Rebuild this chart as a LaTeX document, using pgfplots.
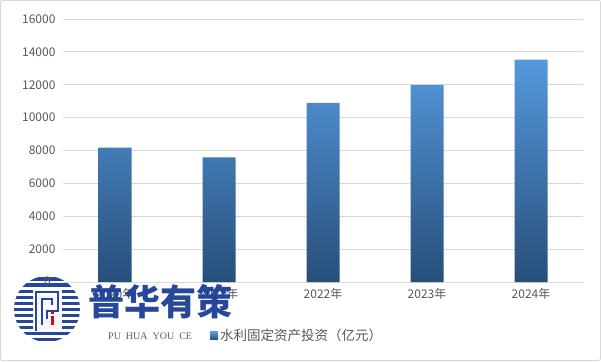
\documentclass[border=0pt]{standalone}
\usepackage{pgfplots}
\pgfplotsset{compat=1.18}
\usepackage{fontspec}
\setmainfont{Noto Sans CJK SC}
\newfontfamily\logofont{Noto Sans CJK SC Black}
\newfontfamily\serifen{Liberation Serif}
\usetikzlibrary{shadings}
\definecolor{txt}{RGB}{89,89,89}
\definecolor{gridc}{RGB}{217,217,217}
\definecolor{bartop}{RGB}{86,152,220}
\definecolor{barbot}{RGB}{38,78,122}
\definecolor{logoblue}{RGB}{28,62,150}
\begin{document}
\begin{tikzpicture}[x=1pt,y=1pt]
\path[fill=white] (0,0) rectangle (601,361);
\draw[gridc, line width=1pt, rounded corners=2pt] (0.5,0.5) rectangle (600.5,360.5);
\begin{axis}[
  at={(63pt,79pt)}, anchor=south west,
  scale only axis, width=520pt, height=263pt,
  xmin=-0.5, xmax=4.5, ymin=0, ymax=16000,
  ytick={2000,4000,...,16000},
  scaled y ticks=false,
  xtick={0,1,2,3,4},
  xticklabels={2020年,2021年,2022年,2023年,2024年},
  ymajorgrids, grid style={gridc, line width=0.8pt},
  axis lines*=left,
  axis line style={draw=none},
  tick style={draw=none},
  ticklabel style={font=\fontsize{12}{14}\selectfont, text=txt},
  yticklabel style={xshift=-4pt, /pgf/number format/fixed, /pgf/number format/precision=0},
  xticklabel style={yshift=-3pt},
  /pgf/number format/set thousands separator={},
  /pgf/number format/assume math mode=true,
  legend style={at={(0.45,-0.205)}, anchor=center, draw=none, fill=none,
    font=\fontsize{13.5}{15}\selectfont, text=txt},
  legend image code/.code={\fill[top color=bartop, bottom color=barbot] (0pt,-4pt) rectangle (8pt,4pt);},
  clip=false,
]
\draw[gridc, line width=0.8pt] (axis cs:-0.5,0) -- (axis cs:4.5,0);
\addplot[ybar, bar width=33pt, draw=none, top color=bartop, bottom color=barbot] coordinates {
(0,8182) (1,7576) (2,10893) (3,11996) (4,13529)};
\addlegendentry{水利固定资产投资（亿元）}
\end{axis}
% watermark logo
\begin{scope}[opacity=0.95]
\begin{scope}
\clip (47,52) circle (33);
\foreach \i in {0,...,11} {
  \fill[logoblue] (10,{20+\i*6}) rectangle (84,{23.5+\i*6});
}
\end{scope}
\fill[white] (33,30) rectangle (62,72);
\draw[logoblue, line width=2.5pt] (36,30) -- (36,69) -- (58,69) -- (58,50) -- (47,50) -- (47,42);
\draw[logoblue, line width=2.5pt] (42,36) -- (42,62) -- (52,62) -- (52,56);
\fill[red!80!black] (51,36) rectangle (54,45);
\fill[red!80!black] (51,47) rectangle (54,50);
\node[anchor=west, inner sep=0pt, text=logoblue, font=\logofont\fontsize{36}{40}\selectfont] at (88,59) {普华有策};
\node[anchor=west, inner sep=0pt, text=txt!80!logoblue, font=\serifen\fontsize{10}{11}\selectfont] at (108,25) {PU\ \ HUA\ \ YOU\ \ CE};
\end{scope}
\node[text=txt, font=\fontsize{12}{14}\selectfont, anchor=east, inner sep=0pt] at (51,80) {0};
\end{tikzpicture}
\end{document}
